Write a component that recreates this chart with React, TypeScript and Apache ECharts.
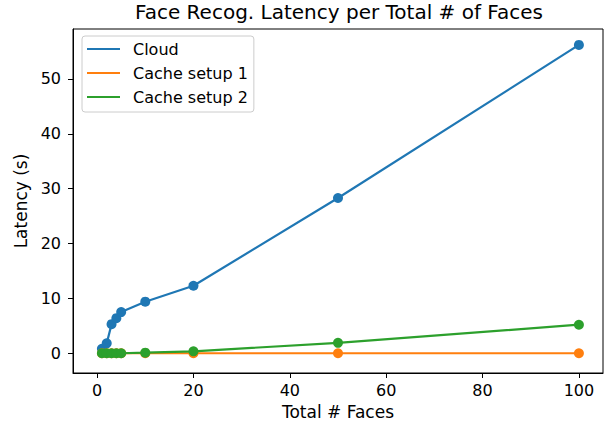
import React, { useEffect, useRef } from "react";
import * as echarts from "echarts";

const faces = [1, 2, 3, 4, 5, 10, 20, 50, 100];
const cloud = [0.8, 1.8, 5.3, 6.4, 7.5, 9.4, 12.3, 28.3, 56.2];
const cache1 = [0.0, 0.0, 0.0, 0.0, 0.0, 0.0, 0.0, 0.0, 0.0];
const cache2 = [0.0, 0.0, 0.0, 0.0, 0.0, 0.1, 0.35, 1.9, 5.2];
const seriesNames = ["Cloud", "Cache setup 1", "Cache setup 2"];
const colors = ["#1f77b4", "#ff7f0e", "#2ca02c"];
const xTicks = [0, 20, 40, 60, 80, 100];
const yTicks = [0, 10, 20, 30, 40, 50];

export default function App() {
  const ref = useRef<HTMLDivElement>(null);
  useEffect(() => {
    const chart = echarts.init(ref.current!, null, { renderer: "svg" });
    const values = [cloud, cache1, cache2];
    const font = "DejaVu Sans";
    const axisColor = "#000";
    chart.setOption({
      animation: false,
      textStyle: { fontFamily: font },
      title: {
        text: "Face Recog. Latency per Total # of Faces",
        left: 339,
        textAlign: "center",
        top: 2,
        padding: 0,
        textStyle: { fontFamily: font, fontSize: 20, fontWeight: "normal", color: "#000" },
      },
      legend: {
        orient: "vertical",
        left: 82,
        top: 36,
        itemWidth: 33,
        itemHeight: 2,
        itemGap: 6,
        padding: [4, 6, 6, 5],
        borderColor: "#ccc",
        borderWidth: 1,
        borderRadius: 3,
        data: seriesNames.map((n) => ({ name: n, icon: "rect" })),
        textStyle: { fontFamily: font, fontSize: 16, lineHeight: 18, color: "#000", padding: [0, 0, 0, 8] },
      },
      grid: {
        left: 73,
        right: 5,
        top: 29,
        bottom: 52,
        show: true,
        borderColor: axisColor,
        borderWidth: 1,
        containLabel: false,
      },
      xAxis: {
        type: "value",
        min: -5,
        max: 105,
        name: "Total # Faces",
        nameLocation: "middle",
        nameGap: 30,
        nameTextStyle: { fontFamily: font, fontSize: 17, color: "#000" },
        axisLine: { show: true, onZero: false, lineStyle: { color: axisColor } },
        axisTick: { show: true, length: 5, customValues: xTicks, lineStyle: { color: axisColor } },
        axisLabel: { customValues: xTicks, fontFamily: font, fontSize: 16, color: "#000", margin: 9 },
        splitLine: { show: false },
      },
      yAxis: {
        type: "value",
        min: -3.6,
        max: 59.1,
        name: "Latency (s)",
        nameLocation: "middle",
        nameGap: 30,
        nameTextStyle: { fontFamily: font, fontSize: 17, color: "#000" },
        axisLine: { show: true, onZero: false, lineStyle: { color: axisColor } },
        axisTick: { show: true, length: 5, customValues: yTicks, lineStyle: { color: axisColor } },
        axisLabel: { customValues: yTicks, fontFamily: font, fontSize: 16, color: "#000", margin: 12 },
        splitLine: { show: false },
      },
      series: seriesNames.map((name, i) => ({
        name,
        type: "line",
        data: faces.map((x, j) => [x, values[i][j]]),
        symbol: "circle",
        symbolSize: 10,
        showSymbol: true,
        color: colors[i],
        lineStyle: { width: 2.2, color: colors[i] },
        itemStyle: { color: colors[i] },
        z: 2 + i,
      })),
    });
    return () => chart.dispose();
  }, []);
  return (
    <div
      ref={ref}
      style={{ position: "fixed", left: 0, top: 0, width: 608, height: 425, background: "#fff" }}
    />
  );
}
